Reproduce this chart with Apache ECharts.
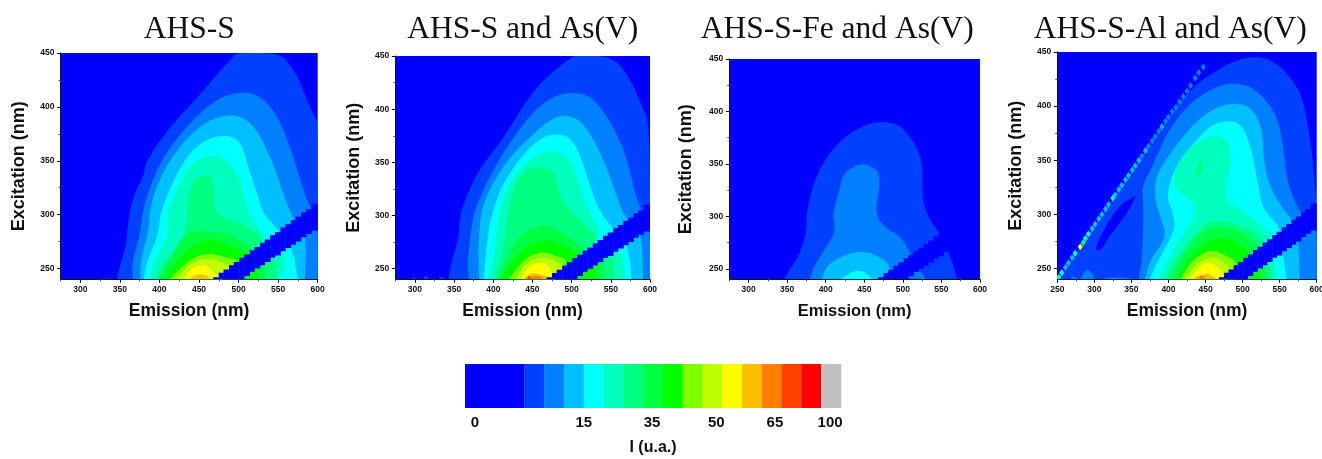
<!DOCTYPE html>
<html><head><meta charset="utf-8">
<script src="https://cdn.jsdelivr.net/npm/echarts@6/dist/echarts.min.js"></script>
<style>html,body{margin:0;padding:0;background:#fff}#c{width:1322px;height:459px}</style>
</head><body><div id="c"></div>
<script>
const levelColors = ['#0000ff','#0040ff','#0080ff','#00bfff','#00ffff','#00ffbf','#00ff80','#00ff40','#00ff00','#80ff00','#bfff00','#ffff00','#ffbf00','#ff8000','#ff4000','#ff0000','#c0c0c0'];
const panelTitles = ['AHS-S','AHS-S and As(V)','AHS-S-Fe and As(V)','AHS-S-Al and As(V)'];
const excitationMajor = [250,300,350,400,450];
const excitationMinor = [275,325,375,425];

// iso-intensity outlines: [colour level, [[emission, excitation], ...]]
const contoursAHS = [
 [1,[[320,240],[330,241],[346,240]]],
 [1,[[346,240],[350,252],[358,272],[360,289],[365,314],[381,337],[382,348],[409,378],[451,411],[476,433],[495,448],[498,450],[552,450],[565,439],[577,425],[588,403],[598,388],[600,387],[600,240]]],
 [2,[[367,240],[365,255],[376,282],[378,301],[388,326],[405,354],[434,382],[468,405],[493,413],[523,413],[548,394],[565,363],[577,335],[588,309],[600,300],[600,240]]],
 [3,[[376,240],[376,258],[387,286],[388,307],[401,335],[422,360],[447,380],[476,392],[502,392],[523,380],[544,347],[556,320],[569,296],[584,282],[585,265],[584,240]]],
 [4,[[380,240],[385,258],[399,282],[401,301],[414,326],[434,354],[460,371],[489,374],[504,366],[512,344],[525,316],[531,301],[550,286],[568,270],[575,240]]],
 [5,[[388,240],[392,255],[409,276],[412,291],[409,301],[422,322],[439,347],[464,356],[485,352],[502,332],[508,316],[512,301],[531,282],[536,272],[500,240]]],
 [5,[[500,243],[556,271],[561,240],[500,240]]],
 [6,[[395,240],[401,252],[424,270],[434,285],[435,313],[442,332],[460,338],[468,334],[468,308],[476,298],[502,293],[523,282],[535,275],[500,240]]],
 [6,[[500,241],[546,265],[550,240]]],
 [7,[[399,240],[415,262],[434,284],[455,285],[489,282],[510,273],[520,265],[480,240]]],
 [7,[[500,241],[531,258],[535,240]]],
 [8,[[405,240],[422,258],[447,274],[468,278],[493,270],[512,264],[516,262],[480,240]]],
 [8,[[500,241],[523,253],[525,240]]],
 [9,[[413,240],[428,252],[447,262],[468,264],[485,260],[502,258],[480,240]]],
 [10,[[422,240],[434,252],[451,259],[468,259],[485,254],[490,250],[480,240]]],
 [11,[[430,240],[439,249],[451,254],[462,252],[470,245],[480,240]]],
 [12,[[437,240],[447,245],[460,244],[464,240]]]
];
const contoursAHSAs = [
 [1,[[296,240],[299,242],[303,240]]],
 [1,[[311,240],[314,245],[318,240]]],
 [1,[[330,240],[334,243],[338,240]]],
 [1,[[343,240],[345,252],[356,278],[357,298],[365,317],[382,344],[409,368],[448,415],[478,437],[501,449],[503,450],[553,450],[576,427],[590,402],[600,386],[600,240]]],
 [2,[[369,240],[367,256],[371,283],[375,302],[388,326],[414,361],[448,396],[478,413],[503,416],[525,412],[546,393],[568,361],[580,324],[588,305],[600,298],[600,240]]],
 [3,[[382,240],[381,258],[382,289],[388,314],[414,349],[448,375],[478,393],[499,394],[516,386],[538,358],[555,324],[566,300],[587,288],[591,262],[591,240]]],
 [4,[[388,240],[390,258],[394,286],[398,300],[410,327],[435,355],[461,374],[486,377],[501,371],[512,355],[525,324],[535,305],[550,290],[570,275],[575,255],[576,240]]],
 [5,[[394,240],[400,258],[405,289],[408,305],[420,330],[444,352],[469,361],[486,360],[503,346],[512,324],[525,298],[540,284],[500,240]]],
 [5,[[500,241],[563,274],[568,240]]],
 [6,[[401,240],[408,258],[417,285],[418,305],[428,330],[440,342],[452,346],[465,345],[478,342],[486,314],[503,302],[525,286],[535,278],[490,240]]],
 [6,[[500,241],[552,268],[555,240]]],
 [7,[[405,240],[418,262],[435,283],[461,291],[478,289],[503,276],[520,265],[480,240]]],
 [7,[[500,241],[538,262],[543,240]]],
 [8,[[409,240],[425,258],[440,270],[461,277],[478,276],[495,270],[510,264],[480,240]]],
 [8,[[500,241],[528,258],[533,240]]],
 [9,[[420,240],[435,255],[448,263],[465,266],[480,262],[497,258],[480,240]]],
 [10,[[429,240],[440,254],[452,259],[465,261],[478,258],[490,252],[480,240]]],
 [11,[[435,240],[443,250],[452,255],[465,256],[475,248],[474,240]]],
 [12,[[439,240],[447,246],[457,245],[469,243],[470,240]]],
 [13,[[441,240],[449,243],[460,243],[465,240]]],
 [14,[[443,240],[445,244],[448,240]]]
];
const contoursFe = [
 [1,[[347,240],[349,244],[354,250],[365,262],[375,284],[375,303],[384,332],[401,357],[427,378],[458,389],[471,390],[488,389],[501,384],[521,363],[526,344],[525,316],[534,297],[547,285],[557,268],[566,253],[570,240]]],
 [2,[[380,240],[384,252],[410,281],[412,290],[409,303],[419,328],[423,341],[440,349],[453,350],[469,343],[470,328],[464,303],[475,290],[497,281],[508,268],[515,255],[480,240]]],
 [2,[[505,241],[516,249],[525,246],[529,240]]],
 [3,[[395,240],[401,253],[423,263],[447,267],[466,263],[484,254],[480,240]]],
 [4,[[419,240],[427,244],[440,249],[453,246],[460,240]]]
];
const contoursAl = [
 [1,[[250,240],[280,270],[330,320],[370,360],[400,390],[433,418],[465,433],[492,443],[523,446],[546,440],[568,424],[582,406],[593,362],[597,332],[600,310],[600,240]]],
 [0,[[356,317],[339,311],[323,298],[312,284],[303,272],[302,266],[310,268],[319,278],[325,284],[339,296],[350,308]]],
 [2,[[268,240],[272,243],[277,240]]],
 [2,[[281,240],[289,250],[297,246],[300,240]]],
 [2,[[305,240],[325,242],[345,241],[360,240]]],
 [2,[[360,240],[364,258],[366,285],[366,316],[364,325],[380,347],[402,381],[434,406],[470,420],[497,421],[519,415],[546,393],[555,362],[558,341],[564,322],[578,301],[590,296],[600,296],[600,240]]],
 [3,[[369,240],[375,258],[398,279],[389,298],[382,313],[382,332],[393,347],[416,369],[443,390],[474,402],[504,402],[519,392],[528,372],[528,350],[537,325],[555,304],[572,291],[575,280],[577,240]]],
 [4,[[375,240],[384,255],[409,285],[407,301],[397,316],[407,341],[429,362],[456,382],[479,387],[497,384],[508,369],[515,350],[522,322],[528,304],[551,288],[553,270],[559,240]]],
 [5,[[386,240],[395,251],[416,279],[434,295],[436,305],[431,313],[411,322],[407,335],[416,353],[443,369],[465,374],[479,369],[486,353],[477,325],[477,313],[506,301],[533,285],[544,281],[500,240]]],
 [5,[[500,241],[543,262],[546,240]]],
 [6,[[436,337],[437,342],[443,350],[447,349],[446,340],[441,336]]],
 [6,[[395,240],[407,255],[434,282],[452,292],[470,295],[492,291],[515,285],[528,276],[535,270],[490,240]]],
 [6,[[500,241],[537,259],[540,240]]],
 [7,[[402,240],[420,264],[447,285],[470,289],[497,285],[519,273],[524,268],[490,240]]],
 [7,[[500,241],[530,256],[533,240]]],
 [8,[[411,240],[429,261],[456,278],[479,279],[501,270],[510,264],[490,240]]],
 [8,[[500,241],[520,252],[526,240]]],
 [9,[[416,240],[430,256],[448,265],[463,267],[480,261],[495,255],[480,240]]],
 [10,[[422,240],[435,252],[450,259],[463,261],[478,254],[487,247],[480,240]]],
 [11,[[428,240],[438,248],[447,255],[460,255],[472,247],[475,243],[470,240]]],
 [12,[[433,240],[440,244],[447,243],[452,246],[460,243],[465,240]]],
 [13,[[440,240],[445,245],[449,241],[452,240]]]
];

// blanked scatter band: columns of emission with low and high excitation limits
const bandEmission = [468,475,481,488,494,501,507,514,520,527,533,540,546,553,559,566,572,579,585,592,600];
const bandLow = [240,240,240,240,240,240,243,247,250,253,256,260,262,266,269,272,275,279,282,285];
const bandHigh = [242,246,249,253,256,260,263,267,270,274,277,281,284,288,291,295,298,302,305,310];

// first-order scatter streak of the AHS-S-Al panel
const streakEmission = [252,256,261,265,270,274,281,285,288,292,297,301,306,310,315,319,325,328,333,337,342,346,351,355,360,364,369,373,378,382,387,391,396,400,405,410,415,420,425,430,436,441,447];
const streakExcitation = [242,246,251,255,260,264,270,274,278,282,287,291,296,300,305,309,315,318,323,327,332,336,341,345,350,354,359,363,368,372,377,381,386,390,395,399,404,409,414,419,426,431,436];
const streakLevel = [5,4,3,3,3,4,11,6,5,4,3,3,3,3,3,3,5,3,3,3,3,3,3,3,3,2,3,2,2,2,2,3,2,2,2,2,2,2,2,2,2,2,2];

// colour key
const keySpanStart = [0,3,4,5,6,7,8,9,10,11,12,13,14,15,16,17,18];
const keySpanEnd = [3,4,5,6,7,8,9,10,11,12,13,14,15,16,17,18,19];
const keyTickPos = [0.5,6,9.45,12.7,15.66,18.45];
const keyTickLabels = ['0','15','35','50','65','100'];

const panelContours = [contoursAHS, contoursAHSAs, contoursFe, contoursAl];
const panelBoxes = [
 {left:60.5, right:317.7, top:53, nameY:32, nameBottom:23},
 {left:395.3, right:650, top:56, nameY:32, nameBottom:23},
 {left:729.3, right:980, top:59, nameY:34, nameBottom:24},
 {left:1057.3, right:1316.7, top:52, nameY:32, nameBottom:23}
];
const panelXStart = [275,275,275,250];
const panelXMajor = [[300,350,400,450,500,550,600],[300,350,400,450,500,550,600],[300,350,400,450,500,550,600],[250,300,350,400,450,500,550,600]];
const panelXMinor = [[275,325,375,425,475,525,575],[275,325,375,425,475,525,575],[275,325,375,425,475,525,575],[275,325,375,425,475,525,575]];
const titleCenters = [184.3,517.7,832.2,1165.2];
const plotBottom = 279.3;

// rounds the outline between its end points when drawn, as the contour plot does
function roundOutline(points){
  let out = points;
  for(let pass=0; pass<2; pass++){
    const next=[out[0]];
    for(let k=0;k<out.length-1;k++){
      const a=out[k], b=out[k+1];
      next.push([a[0]*0.75+b[0]*0.25, a[1]*0.75+b[1]*0.25]);
      next.push([a[0]*0.25+b[0]*0.75, a[1]*0.25+b[1]*0.75]);
    }
    next.push(out[out.length-1]);
    out=next;
  }
  return out;
}

const boldFont = {fontFamily:'"Liberation Sans",Arial,sans-serif', fontWeight:'bold', color:'#111'};
const option = {animation:false, backgroundColor:'#fff', title:[], grid:[], xAxis:[], yAxis:[], series:[]};

panelBoxes.forEach((b,i)=>{
  option.title.push({text:panelTitles[i], left:titleCenters[i], top:9, textAlign:'center',
    textStyle:{fontFamily:'"Liberation Serif","Times New Roman",serif', fontWeight:'normal', fontSize:31.5, color:'#111'}});
  option.grid.push({left:b.left, top:b.top, width:b.right-b.left, height:plotBottom-b.top, show:true, backgroundColor:'#0000ff', borderWidth:0, containLabel:false, outerBoundsMode:'none'});
  const xMin = panelXStart[i];
  option.xAxis.push(
   {gridIndex:i, type:'value', position:'bottom', min:xMin, max:600, name:'Emission (nm)', nameLocation:'middle', nameGap:b.nameBottom,
    nameTextStyle:{...boldFont, fontSize:i===2?16.5:17.5},
    axisLine:{show:true, onZero:false, lineStyle:{color:'#111', width:1}},
    axisTick:{show:true, length:3.5, customValues:panelXMajor[i], lineStyle:{color:'#111'}},
    axisLabel:{show:true, ...boldFont, fontSize:8.5, margin:6, customValues:panelXMajor[i], formatter:v=>String(v), hideOverlap:false},
    splitLine:{show:false}},
   {gridIndex:i, type:'value', position:'bottom', min:xMin, max:600, axisLine:{show:false, onZero:false}, axisLabel:{show:false},
    axisTick:{show:true, length:2, customValues:panelXMinor[i], lineStyle:{color:'#555'}}, splitLine:{show:false}}
  );
  option.yAxis.push(
   {gridIndex:i, type:'value', position:'left', min:240, max:450, name:'Excitation (nm)', nameLocation:'middle', nameGap:b.nameY,
    nameTextStyle:{...boldFont, fontSize:18},
    axisLine:{show:true, onZero:false, lineStyle:{color:'#111', width:1}},
    axisTick:{show:true, length:3.5, customValues:excitationMajor, lineStyle:{color:'#111'}},
    axisLabel:{show:true, ...boldFont, fontSize:8.5, margin:6, customValues:excitationMajor, formatter:v=>String(v), hideOverlap:false},
    splitLine:{show:false}},
   {gridIndex:i, type:'value', position:'left', min:240, max:450, axisLine:{show:false, onZero:false}, axisLabel:{show:false},
    axisTick:{show:true, length:2, customValues:excitationMinor, lineStyle:{color:'#555'}}, splitLine:{show:false}}
  );
  const ax = {xAxisIndex:i*2, yAxisIndex:i*2};
  const contours = panelContours[i];
  option.series.push({
    type:'custom', ...ax, clip:true, silent:true, z:2,
    data:contours.map((c,k)=>[c[1][0][0], c[1][0][1], k]),
    encode:{x:0,y:1},
    renderItem:(p,api)=>{
      const c = contours[api.value(2)];
      return {type:'polygon', shape:{points:roundOutline(c[1]).map(pt=>api.coord(pt))}, style:{fill:levelColors[c[0]]}};
    }
  });
  option.series.push({
    type:'custom', ...ax, clip:true, silent:true, z:3,
    data:bandLow.map((lo,k)=>[bandEmission[k], lo, bandEmission[k+1], bandHigh[k]]),
    encode:{x:0,y:1},
    renderItem:(p,api)=>{
      const a = api.coord([api.value(0), api.value(3)]);
      const z = api.coord([api.value(2), api.value(1)]);
      const overlap = api.value(2) < 600 ? 0.4 : 0;
      return {type:'rect', shape:{x:a[0], y:a[1], width:z[0]-a[0]+overlap, height:z[1]-a[1]}, style:{fill:levelColors[0]}};
    }
  });
  if(i===3){
    option.series.push({
      type:'custom', ...ax, clip:true, silent:true, z:4,
      data:streakEmission.map((e,k)=>[e, streakExcitation[k], streakLevel[k]]),
      encode:{x:0,y:1},
      renderItem:(p,api)=>{
        const e=api.value(0), x=api.value(1);
        return {type:'polygon', shape:{points:[[e-3.4,x],[e,x+3.2],[e+3.4,x],[e,x-3.2]].map(pt=>api.coord(pt))}, style:{fill:levelColors[api.value(2)]}};
      }
    });
  }
});

// colour key
option.grid.push({left:465, top:364, width:376, height:44, show:false, containLabel:false, outerBoundsMode:'none'});
option.xAxis.push({gridIndex:4, type:'value', min:0, max:19, name:'I (u.a.)', nameLocation:'middle', nameGap:32,
  nameTextStyle:{...boldFont, fontSize:16},
  axisLine:{show:false}, axisTick:{show:false}, splitLine:{show:false},
  axisLabel:{show:true, ...boldFont, fontSize:15, margin:7, customValues:keyTickPos,
    formatter:v=>keyTickLabels[keyTickPos.indexOf(v)], hideOverlap:false}});
option.yAxis.push({gridIndex:4, type:'value', min:0, max:1, show:false});
option.series.push({
  type:'custom', xAxisIndex:8, yAxisIndex:8, silent:true, z:2,
  data:keySpanStart.map((s,k)=>[s, 0, keySpanEnd[k], k]),
  encode:{x:0,y:1},
  renderItem:(p,api)=>{
    const a=api.coord([api.value(0),1]), z=api.coord([api.value(2),0]);
    return {type:'rect', shape:{x:a[0], y:a[1], width:z[0]-a[0]+0.3, height:z[1]-a[1]}, style:{fill:levelColors[api.value(3)]}};
  }
});

const chart = echarts.init(document.getElementById('c'), null, {renderer:'canvas'});
chart.setOption(option);
</script>
</body></html>
